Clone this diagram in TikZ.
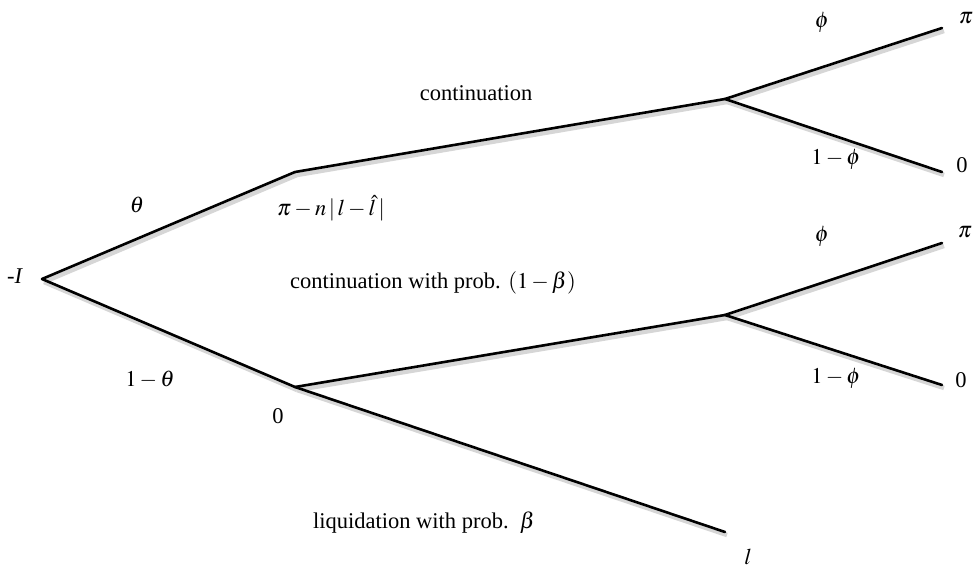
\documentclass[tikz,border=0pt]{standalone}
\usepackage{mathptmx}
\usepackage{fontspec}
\setmainfont{Liberation Serif}
\usetikzlibrary{positioning}
\tikzset{
  branch/.style={
    line width=2.6pt, line cap=round, line join=round, draw=black,
    preaction={draw=black!16, line width=4.5pt,
      transform canvas={xshift=2pt,yshift=-3pt}}
  },
  lbl/.style={inner sep=0pt, font=\fontsize{22.5}{26}\selectfont}
}

\begin{document}
\begin{tikzpicture}[x=1pt,y=-1pt]
    \useasboundingbox (0,0) rectangle (977,572);

    % tree vertices
    \coordinate (root)  at (42,279);
    \coordinate (up)    at (295,172);
    \coordinate (down)  at (295,387);
    \coordinate (upmid) at (725,99);
    \coordinate (dnmid) at (725,315);
    \coordinate (upwin) at (942,28);
    \coordinate (uplos) at (942,172);
    \coordinate (dnwin) at (942,243);
    \coordinate (dnlos) at (942,385);
    \coordinate (liq)   at (725,532);

    \draw[branch] (root) -- (up);
    \draw[branch] (root) -- (down);
    \draw[branch] (up) -- (upmid);
    \draw[branch] (upmid) -- (upwin);
    \draw[branch] (upmid) -- (uplos);
    \draw[branch] (down) -- (dnmid);
    \draw[branch] (dnmid) -- (dnwin);
    \draw[branch] (dnmid) -- (dnlos);
    \draw[branch] (down) -- (liq);

    % labels
    \node[lbl] (lroot)  at (15,276)  {-\textit{I}};
    \node[lbl] (ltheta) at (137,205) {$\theta$};
    \node[lbl] (lnth)   at (150,380) {$1-\theta$};
    \node[lbl] (lpay)   at (331,208) {$\pi-n\,|\,l-\hat{l}\,|$};
    \node[lbl] (lzero)  at (278,416) {0};
    \node[lbl] (lcont)  at (476,93)  {continuation};
    \node[lbl] (lcontb) at (433,283) {continuation with prob. $(1-\beta)$};
    \node[lbl] (lliq)   at (424,523) {liquidation with prob.\ \ $\beta$};
    \node[lbl] (lell)   at (748,557) {$l$};
    \node[lbl] (lphiA)  at (822,22)  {$\phi$};
    \node[lbl] (lnphA)  at (836,159) {$1-\phi$};
    \node[lbl] (lphiB)  at (822,236) {$\phi$};
    \node[lbl] (lnphB)  at (836,378) {$1-\phi$};
    \node[lbl] (lpiA)   at (966,18)  {$\pi$};
    \node[lbl] (lzA)    at (962,165) {0};
    \node[lbl] (lpiB)   at (965,232) {$\pi$};
    \node[lbl] (lzB)    at (961,380) {0};
\end{tikzpicture}
\end{document}
